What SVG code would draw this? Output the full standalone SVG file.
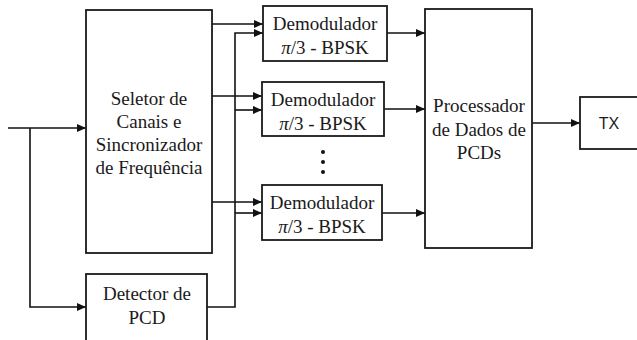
<svg xmlns="http://www.w3.org/2000/svg" width="637" height="340" viewBox="0 0 637 340">
  <defs>
    <marker id="arrow" markerUnits="userSpaceOnUse" markerWidth="9" markerHeight="8" refX="9" refY="4" orient="auto">
      <path d="M0,0 L9,4 L0,8 z" fill="#111"/>
    </marker>
    <style>
      .box { fill: #fff; stroke: #1a1a1a; stroke-width: 1.8; }
      .lbl { font-family: "Liberation Serif", "Times New Roman", serif; font-size: 19px; fill: #1a1a1a; text-anchor: middle; }
      .sans { font-family: "Liberation Sans", Arial, sans-serif; font-size: 16px; fill: #1a1a1a; text-anchor: middle; }
      .wire { fill: none; stroke: #111; stroke-width: 1.6; }
      .arr { marker-end: url(#arrow); }
    </style>
  </defs>
  <rect width="637" height="340" fill="#fff"/>

  <!-- signal paths -->
  <g id="connectors">
    <path class="wire arr" d="M8,128 H86"/>
    <path class="wire arr" d="M30,128 V307 H86"/>
    <path class="wire arr" d="M212,24 H263"/>
    <path class="wire arr" d="M212,96 H262"/>
    <path class="wire arr" d="M212,202 H262"/>
    <path class="wire arr" d="M207,307 H235 V33 H263"/>
    <path class="wire arr" d="M235,110 H262"/>
    <path class="wire arr" d="M235,213 H262"/>
    <path class="wire arr" d="M387,33 H425"/>
    <path class="wire arr" d="M384,109 H425"/>
    <path class="wire arr" d="M382,213 H425"/>
    <path class="wire arr" d="M532,123 H580"/>
  </g>

  <g id="seletor">
    <rect class="box" x="86" y="10" width="126" height="243"/>
    <text class="lbl" x="149" y="105">Seletor de</text>
    <text class="lbl" x="149" y="128">Canais e</text>
    <text class="lbl" x="149" y="151">Sincronizador</text>
    <text class="lbl" x="149" y="174">de Frequência</text>
  </g>

  <g id="detector">
    <rect class="box" x="86" y="274" width="121" height="80"/>
    <text class="lbl" x="147" y="300">Detector de</text>
    <text class="lbl" x="147" y="324">PCD</text>
  </g>

  <g id="demod1">
    <rect class="box" x="263" y="6" width="124" height="55"/>
    <text class="lbl" x="325" y="30">Demodulador</text>
    <text class="lbl" x="325" y="54"><tspan font-style="italic">π</tspan>/3 - BPSK</text>
  </g>

  <g id="demod2">
    <rect class="box" x="262" y="82" width="122" height="54"/>
    <text class="lbl" x="323" y="106">Demodulador</text>
    <text class="lbl" x="323" y="130"><tspan font-style="italic">π</tspan>/3 - BPSK</text>
  </g>

  <g id="ellipsis">
    <circle cx="323" cy="152" r="2" fill="#111"/>
    <circle cx="323" cy="162" r="2" fill="#111"/>
    <circle cx="323" cy="172" r="2" fill="#111"/>
  </g>

  <g id="demod3">
    <rect class="box" x="262" y="185" width="120" height="55"/>
    <text class="lbl" x="322" y="209">Demodulador</text>
    <text class="lbl" x="322" y="233"><tspan font-style="italic">π</tspan>/3 - BPSK</text>
  </g>

  <g id="processador">
    <rect class="box" x="425" y="9" width="107" height="239"/>
    <text class="lbl" x="479" y="112">Processador</text>
    <text class="lbl" x="479" y="136">de Dados de</text>
    <text class="lbl" x="479" y="159">PCDs</text>
  </g>

  <g id="tx">
    <rect class="box" x="580" y="97" width="62" height="52"/>
    <text class="sans" x="609" y="129">TX</text>
  </g>
</svg>
